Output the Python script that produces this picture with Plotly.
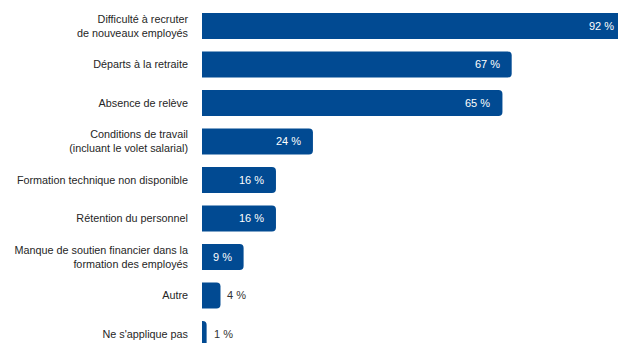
import plotly.graph_objects as go

# Survey answers (share of respondents, %)
categories = [
    "Difficulté à recruter<br>de nouveaux employés",
    "Départs à la retraite",
    "Absence de relève",
    "Conditions de travail<br>(incluant le volet salarial)",
    "Formation technique non disponible",
    "Rétention du personnel",
    "Manque de soutien financier dans la<br>formation des employés",
    "Autre",
    "Ne s'applique pas",
]
values = [92, 67, 65, 24, 16, 16, 9, 4, 1]

BAR_COLOR = "#014a92"
LABEL_COLOR = "#262626"
FONT = "Liberation Sans, Arial, sans-serif"
X_MAX = 90          # visible end of the value axis
INSIDE_MIN = 5      # values below this get their label outside the bar

fig = go.Figure(
    go.Bar(
        x=values,
        y=categories,
        orientation="h",
        marker=dict(color=BAR_COLOR, line=dict(width=0)),
        hoverinfo="skip",
    )
)

# Value labels: white near the bar end when it fits, dark just after the bar otherwise
for cat, v in zip(categories, values):
    inside = v >= INSIDE_MIN
    clipped = v > X_MAX
    fig.add_annotation(
        x=min(v, X_MAX),
        y=cat,
        xref="x",
        yref="y",
        text=f"{v} %",
        showarrow=False,
        xanchor="right" if inside else "left",
        xshift=(-2 if clipped else -10) if inside else 5,
        font=dict(family=FONT, size=11, color="white" if inside else "#333333"),
    )

fig.update_layout(
    width=618,
    height=343,
    margin=dict(l=202, r=0, t=0, b=0),
    paper_bgcolor="white",
    plot_bgcolor="white",
    bargap=0.325,
    barcornerradius=4,
    showlegend=False,
    font=dict(family=FONT, size=10.8, color=LABEL_COLOR),
    xaxis=dict(
        range=[0, X_MAX],
        showgrid=False,
        zeroline=False,
        showticklabels=False,
        showline=False,
        fixedrange=True,
    ),
    yaxis=dict(
        type="category",
        categoryorder="array",
        categoryarray=categories,
        range=[8.234, -0.675],
        showgrid=False,
        zeroline=False,
        showline=False,
        ticks="",
        ticklabelstandoff=13,
        tickfont=dict(family=FONT, size=10.8, color=LABEL_COLOR),
        fixedrange=True,
    ),
)

fig.write_html("out.html")
